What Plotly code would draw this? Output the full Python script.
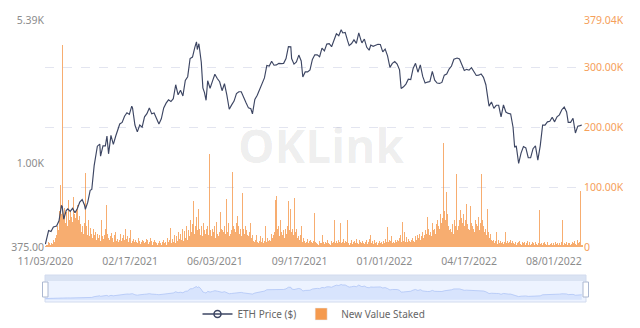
import numpy as np
import pandas as pd
import plotly.graph_objects as go

# ---------------- data ----------------
start_date = "2020-11-03"

# New value staked per day (thousands)
staked_k = [
    2,3,5,4,8,6,3,10,7,5,12,8,6,15,20,35,28,45,60,103,
    55,337,70,48,65,40,58,52,35,78,45,60,38,50,42,84,55,30,48,62,
    70,45,28,52,38,25,35,30,22,40,123,35,28,20,45,18,32,25,22,15,
    30,20,18,25,12,22,15,28,20,10,45,18,25,14,20,30,70,110,22,15,
    12,18,10,23,15,8,20,12,25,10,14,8,18,12,22,10,15,9,20,12,
    30,14,10,18,8,15,28,12,6,10,14,8,5,12,9,6,15,7,10,5,
    8,12,38,10,6,9,14,7,12,5,8,15,6,10,4,8,12,5,9,6,
    4,7,5,10,6,3,8,5,12,6,9,4,40,15,8,12,32,10,6,14,
    8,20,12,6,18,10,25,8,14,22,12,30,18,10,26,15,20,35,12,28,
    18,30,45,25,38,76,40,22,35,50,28,42,63,30,20,35,25,18,40,28,
    22,47,30,35,20,156,45,28,18,30,25,20,35,15,42,22,30,18,25,59,
    30,20,28,25,35,22,30,80,25,40,18,30,22,28,125,35,20,30,25,40,
    52,28,35,22,30,18,25,90,30,22,35,15,28,20,18,25,12,40,15,20,
    10,15,8,12,20,9,14,6,10,18,8,12,15,7,10,35,12,8,15,10,
    12,18,10,22,15,20,12,25,78,85,30,22,35,18,45,25,30,20,28,15,
    30,52,22,35,76,28,40,63,25,30,20,18,81,25,30,15,22,18,12,20,
    35,12,8,15,10,6,12,9,14,7,10,5,12,8,6,10,14,56,9,6,
    5,8,4,10,6,7,3,20,8,5,9,4,7,12,6,5,8,3,10,6,
    8,5,45,7,10,6,4,12,8,40,6,5,9,14,7,10,5,8,45,6,
    4,9,6,12,5,8,3,10,7,14,6,9,5,12,8,6,28,10,7,5,
    9,6,12,5,8,14,7,20,6,10,5,8,12,6,9,4,15,7,10,6,
    8,12,5,10,7,14,6,9,33,8,12,5,10,18,7,9,14,6,11,8,
    12,7,10,15,20,9,14,42,10,25,8,12,16,9,14,10,18,8,12,15,
    10,14,8,18,12,20,9,15,22,12,18,10,25,15,20,28,18,22,50,30,
    20,35,25,18,40,28,49,30,22,38,45,25,35,30,55,40,65,48,174,60,
    45,38,92,55,35,28,42,30,25,38,22,30,45,35,122,40,28,35,45,62,
    30,48,40,55,35,25,45,72,38,30,50,28,68,40,35,55,30,25,45,38,
    76,35,50,28,40,30,122,45,35,25,40,30,20,63,25,18,15,22,12,10,
    8,12,6,10,25,8,5,12,7,10,15,6,9,5,8,12,25,7,10,6,
    5,8,12,6,10,38,7,5,9,4,12,6,8,10,5,7,4,9,6,8,
    5,3,7,10,4,6,8,3,5,9,4,6,3,8,5,7,4,6,62,5,
    4,7,3,6,9,4,5,3,8,4,6,3,5,7,4,3,6,4,8,5,
    3,6,4,7,3,5,8,45,4,6,3,5,9,4,6,3,7,4,5,8,
    4,6,10,5,3,7,12,6,8,94,
    5,3,4,
]

price_dates = [
    "2020-11-03","2020-11-05","2020-11-07","2020-11-10","2020-11-13","2020-11-17","2020-11-20",
    "2020-11-23","2020-11-24","2020-11-26","2020-11-29","2020-12-01","2020-12-04","2020-12-07",
    "2020-12-10","2020-12-13","2020-12-16","2020-12-19","2020-12-22","2020-12-23","2020-12-26",
    "2020-12-29","2020-12-31","2021-01-03","2021-01-04","2021-01-07","2021-01-10","2021-01-11",
    "2021-01-14","2021-01-17","2021-01-19","2021-01-21","2021-01-24","2021-01-27","2021-01-30",
    "2021-02-02","2021-02-04","2021-02-07","2021-02-10","2021-02-13","2021-02-16","2021-02-19",
    "2021-02-20","2021-02-23","2021-02-26","2021-03-01","2021-03-04","2021-03-07","2021-03-10",
    "2021-03-13","2021-03-16","2021-03-19","2021-03-22","2021-03-25","2021-03-28","2021-03-31",
    "2021-04-03","2021-04-06","2021-04-09","2021-04-12","2021-04-15","2021-04-16","2021-04-18",
    "2021-04-21","2021-04-24","2021-04-27","2021-04-30","2021-05-03","2021-05-06","2021-05-09",
    "2021-05-11","2021-05-12","2021-05-14","2021-05-17","2021-05-19","2021-05-21","2021-05-23",
    "2021-05-25","2021-05-28","2021-05-31","2021-06-03","2021-06-06","2021-06-09","2021-06-12",
    "2021-06-15","2021-06-18","2021-06-21","2021-06-24","2021-06-27","2021-06-30","2021-07-03",
    "2021-07-06","2021-07-09","2021-07-12","2021-07-15","2021-07-18","2021-07-20","2021-07-23",
    "2021-07-26","2021-07-29","2021-08-01","2021-08-04","2021-08-07","2021-08-10","2021-08-13",
    "2021-08-16","2021-08-19","2021-08-22","2021-08-25","2021-08-28","2021-08-31","2021-09-03",
    "2021-09-06","2021-09-07","2021-09-10","2021-09-13","2021-09-16","2021-09-19","2021-09-21",
    "2021-09-24","2021-09-27","2021-09-30","2021-10-03","2021-10-06","2021-10-09","2021-10-12",
    "2021-10-15","2021-10-18","2021-10-21","2021-10-24","2021-10-27","2021-10-30","2021-11-02",
    "2021-11-05","2021-11-08","2021-11-10","2021-11-13","2021-11-16","2021-11-18","2021-11-21",
    "2021-11-24","2021-11-27","2021-11-30","2021-12-03","2021-12-04","2021-12-07","2021-12-10",
    "2021-12-13","2021-12-15","2021-12-18","2021-12-21","2021-12-24","2021-12-27","2021-12-30",
    "2022-01-02","2022-01-05","2022-01-08","2022-01-11","2022-01-14","2022-01-17","2022-01-20",
    "2022-01-22","2022-01-25","2022-01-28","2022-01-31","2022-02-03","2022-02-06","2022-02-09",
    "2022-02-12","2022-02-15","2022-02-18","2022-02-21","2022-02-24","2022-02-27","2022-03-02",
    "2022-03-05","2022-03-08","2022-03-11","2022-03-14","2022-03-17","2022-03-20","2022-03-23",
    "2022-03-26","2022-03-29","2022-04-02","2022-04-05","2022-04-08","2022-04-11","2022-04-14",
    "2022-04-17","2022-04-20","2022-04-23","2022-04-26","2022-04-29","2022-05-02","2022-05-05",
    "2022-05-08","2022-05-11","2022-05-12","2022-05-15","2022-05-18","2022-05-21","2022-05-24",
    "2022-05-27","2022-05-30","2022-06-02","2022-06-05","2022-06-08","2022-06-11","2022-06-13",
    "2022-06-15","2022-06-18","2022-06-21","2022-06-24","2022-06-27","2022-06-30","2022-07-03",
    "2022-07-06","2022-07-09","2022-07-12","2022-07-15","2022-07-18","2022-07-21","2022-07-24",
    "2022-07-27","2022-07-30","2022-08-02","2022-08-05","2022-08-08","2022-08-11","2022-08-14",
    "2022-08-17","2022-08-19","2022-08-22","2022-08-25","2022-08-28","2022-08-31","2022-09-03",
    "2022-09-05",
]
price_usd = [
    388,415,455,450,475,480,510,
    608,604,520,575,587,570,590,
    560,590,635,655,612,584,635,
    730,737,975,1040,1225,1255,1090,
    1230,1230,1380,1120,1390,1250,1380,
    1510,1590,1620,1740,1815,1780,1960,
    1920,1570,1450,1570,1530,1730,1795,
    1920,1790,1810,1680,1590,1690,1920,
    2030,2110,2070,2140,2520,2430,2240,
    2360,2210,2650,2770,3430,3490,3920,
    4170,3810,4080,3280,2430,2300,2100,
    2640,2420,2630,2850,2710,2610,2350,
    2550,2230,1890,1990,2080,2270,2320,
    2320,2150,2040,1920,1900,1790,2120,
    2230,2380,2560,2730,3160,3140,3320,
    3170,3180,3240,3230,3240,3430,3940,
    3930,3430,3210,3290,3570,3330,2760,
    2930,2930,3000,3390,3580,3580,3500,
    3870,3750,4060,4080,3940,4290,4590,
    4480,4810,4630,4660,4230,3990,4090,
    4270,4100,4630,4220,4120,4310,3910,
    3780,4020,3960,4020,4050,4040,3710,
    3830,3540,3090,3240,3310,3210,3000,
    2410,2460,2540,2690,2680,3050,3240,
    2920,3180,2780,2570,2600,2620,2950,
    2660,2570,2560,2590,2820,2860,3030,
    3140,3400,3450,3410,3190,2980,3020,
    2990,3080,2940,2810,2820,2860,2750,
    2520,2080,1960,2060,1910,1980,1980,
    1730,1990,1830,1800,1790,1530,1210,
    1230,1000,1130,1220,1200,1070,1070,
    1190,1230,1040,1230,1570,1570,1630,
    1640,1720,1630,1730,1770,1880,1940,
    1830,1620,1620,1700,1430,1550,1560,
    1570,
]

x_tick_dates = ["2020-11-03","2021-02-17","2021-06-03","2021-09-17",
                "2022-01-01","2022-04-17","2022-08-01"]
x_tick_text = ["11/03/2020","02/17/2021","06/03/2021","09/17/2021",
               "01/01/2022","04/17/2022","08/01/2022"]
left_tick_vals = [375, 1000, 5390]
left_tick_text = ["375.00", "1.00K", "5.39K"]
right_tick_vals = [0, 100000, 200000, 300000, 379040]
right_tick_text = ["0", "100.00K", "200.00K", "300.00K", "379.04K"]

# ---------------- figure ----------------
bar_dates = pd.date_range(start_date, periods=len(staked_k), freq="D")
staked = [v * 1000 for v in staked_k]

LINE = "#3d4663"
ORANGE = "#f59a4e"
GREY = "#8c8c8c"
FONT = "Noto Sans"

xr = ["2020-11-02 12:00", "2022-09-06 12:00"]

fig = go.Figure()
fig.add_trace(go.Bar(x=bar_dates, y=staked, marker=dict(color="rgba(245,150,72,0.78)", line=dict(width=0)),
                     xaxis="x", yaxis="y", showlegend=False, hoverinfo="skip"))
fig.add_trace(go.Scatter(x=price_dates, y=price_usd, mode="lines", line=dict(color=LINE, width=1.15),
                         xaxis="x", yaxis="y2", showlegend=False, hoverinfo="skip"))
# mini chart inside slider
fig.add_trace(go.Scatter(x=price_dates, y=price_usd, mode="lines", fill="tozeroy",
                         line=dict(color="#a9c0f5", width=0.7), fillcolor="rgba(143,176,247,0.22)",
                         xaxis="x2", yaxis="y3", showlegend=False, hoverinfo="skip"))
# legend entries
fig.add_trace(go.Scatter(x=[None], y=[None], mode="lines+markers", name="ETH Price ($)",
                         line=dict(color=LINE, width=1.5),
                         marker=dict(symbol="circle-open", size=7, color=LINE, line=dict(width=1.5))))
fig.add_trace(go.Bar(x=[None], y=[None], name="New Value Staked", marker=dict(color=ORANGE)))

H_TOP, H_BOT = 20, 328
def py(pix):
    return (H_BOT - pix) / (H_BOT - H_TOP)
def px(pix):
    return (pix - 45) / 538

fig.update_layout(
    width=640, height=328,
    margin=dict(l=45, r=57, t=H_TOP, b=328 - H_BOT, autoexpand=False),
    paper_bgcolor="white", plot_bgcolor="white",
    font=dict(family=FONT, size=10, color=GREY),
    bargap=0,
    xaxis=dict(type="date", range=xr, domain=[0, 1], anchor="y",
               tickvals=x_tick_dates, ticktext=x_tick_text,
               showgrid=False, zeroline=False, showline=False, ticks="outside",
               ticklen=4, tickcolor="rgba(0,0,0,0)",
               tickfont=dict(size=10.5, color=GREY)),
    yaxis=dict(domain=[py(247), 1], side="right", range=[0, 379040],
               tickvals=right_tick_vals, ticktext=right_tick_text,
               showgrid=True, gridcolor="#e3e5f0", griddash="dash", gridwidth=1,
               zeroline=False, showline=False, ticks="",
               tickfont=dict(size=10.5, color="#f5a05a")),
    yaxis2=dict(overlaying="y", side="left", type="log",
                range=[np.log10(375), np.log10(5390)],
                tickvals=left_tick_vals, ticktext=left_tick_text,
                showgrid=False, zeroline=False, showline=False, ticks="",
                tickfont=dict(size=10.5, color=GREY)),
    xaxis2=dict(type="date", range=xr, domain=[0, 1], anchor="y3", visible=False),
    yaxis3=dict(domain=[py(302), py(281)], range=[-700, 5900], visible=False),
    legend=dict(orientation="h", x=0.5, xanchor="center", y=py(314), yanchor="middle",
                font=dict(size=10, color="#666666"), itemwidth=30, bgcolor="rgba(0,0,0,0)"),
    annotations=[dict(text="<b>OKLink</b>", xref="paper", yref="paper",
                      x=px(321), y=py(112), showarrow=False,
                      font=dict(size=46, color="rgba(0,0,0,0.08)", family="Open Sans"))],
    shapes=[
        dict(type="rect", xref="paper", yref="paper", x0=0, x1=px(586),
             y0=py(302), y1=py(275), line=dict(color="#d2dbee", width=1),
             fillcolor="rgba(135,175,255,0.15)", layer="below"),
        dict(type="rect", xref="paper", yref="paper", x0=0, x1=px(586),
             y0=py(281), y1=py(275), line=dict(width=0),
             fillcolor="rgba(210,219,238,0.7)", layer="below"),
        dict(type="rect", xref="paper", yref="paper", x0=px(42.5), x1=px(48),
             y0=py(297), y1=py(282), line=dict(color="#acb8d1", width=1),
             fillcolor="white", layer="above"),
        dict(type="rect", xref="paper", yref="paper", x0=px(583), x1=px(588.5),
             y0=py(297), y1=py(282), line=dict(color="#acb8d1", width=1),
             fillcolor="white", layer="above"),
        # chart container edge: right labels are cut off as in the reference
        dict(type="rect", xref="paper", yref="paper", x0=px(623), x1=px(641),
             y0=py(260), y1=1.05, line=dict(width=0), fillcolor="white", layer="above"),
    ],
)

fig.write_html("out.html")
